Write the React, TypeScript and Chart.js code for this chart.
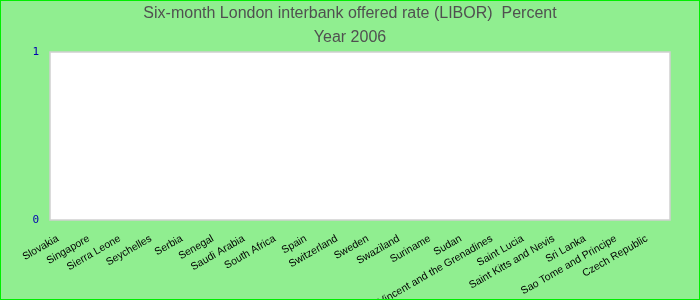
import React, { useEffect, useRef } from 'react';
import { Chart, registerables } from 'chart.js';

Chart.register(...registerables);

const titleLines: string[] = ['Six-month London interbank offered rate (LIBOR)  Percent', 'Year 2006'];

const countries: string[] = [
  'Slovakia',
  'Singapore',
  'Sierra Leone',
  'Seychelles',
  'Serbia',
  'Senegal',
  'Saudi Arabia',
  'South Africa',
  'Spain',
  'Switzerland',
  'Sweden',
  'Swaziland',
  'Suriname',
  'Sudan',
  'Saint Vincent and the Grenadines',
  'Saint Lucia',
  'Saint Kitts and Nevis',
  'Sri Lanka',
  'Sao Tome and Principe',
  'Czech Republic',
];

// No values are shown for 2006 in the reference
const liborValues: (number | null)[] = [
  null, null, null, null, null, null, null, null, null, null,
  null, null, null, null, null, null, null, null, null, null,
];

const yTicks: number[] = [0, 1];

const plotBackground = {
  id: 'plotBackground',
  beforeDraw(chart: any) {
    const { ctx, chartArea } = chart;
    if (!chartArea) return;
    ctx.save();
    ctx.fillStyle = '#ffffff';
    ctx.fillRect(chartArea.left, chartArea.top, chartArea.right - chartArea.left, chartArea.bottom - chartArea.top);
    ctx.restore();
  },
  afterDraw(chart: any) {
    const { ctx, chartArea } = chart;
    if (!chartArea) return;
    ctx.save();
    ctx.strokeStyle = '#d0d0d0';
    ctx.lineWidth = 1.5;
    ctx.strokeRect(chartArea.left, chartArea.top, chartArea.right - chartArea.left, chartArea.bottom - chartArea.top);
    ctx.restore();
  },
};

export default function App() {
  const canvasRef = useRef<HTMLCanvasElement | null>(null);

  useEffect(() => {
    if (!canvasRef.current) return;
    const chart = new Chart(canvasRef.current, {
      type: 'bar',
      data: {
        labels: countries,
        datasets: [
          {
            label: 'LIBOR',
            data: liborValues,
            backgroundColor: '#4472c4',
            borderWidth: 0,
          },
        ],
      },
      options: {
        responsive: false,
        animation: false,
        layout: { padding: 0 },
        plugins: {
          legend: { display: false },
          tooltip: { enabled: false },
          title: {
            display: true,
            text: titleLines,
            color: '#505050',
            font: { family: 'Arial, "Liberation Sans", sans-serif', size: 16, weight: 'normal', lineHeight: 1.5 },
            padding: { top: 1, bottom: 2 },
          },
        },
        scales: {
          x: {
            grid: { display: false, drawTicks: false },
            border: { display: false },
            ticks: {
              autoSkip: false,
              minRotation: 30,
              maxRotation: 30,
              padding: 8,
              color: '#000000',
              font: { family: 'Arial, "Liberation Sans", sans-serif', size: 10.5 },
              callback: (_value: any, index: number) => countries[index] + '   ',
            },
            afterFit: (scale: any) => {
              scale.height = 79;
            },
          },
          y: {
            min: 0,
            max: 1,
            grid: { display: false, drawTicks: false },
            border: { display: false },
            afterBuildTicks: (scale: any) => {
              scale.ticks = yTicks.map((v) => ({ value: v }));
            },
            ticks: {
              stepSize: 1,
              padding: 11,
              color: '#0000b0',
              font: { family: '"DejaVu Sans Mono", monospace', size: 11 },
            },
            afterFit: (scale: any) => {
              scale.width = 49;
            },
          },
          yRight: {
            position: 'right',
            display: true,
            min: 0,
            max: 1,
            grid: { display: false, drawTicks: false },
            border: { display: false },
            ticks: { display: false },
            afterFit: (scale: any) => {
              scale.width = 29;
            },
          },
        },
      },
      plugins: [plotBackground],
    });
    return () => chart.destroy();
  }, []);

  return (
    <div
      style={{
        position: 'fixed',
        left: 0,
        top: 0,
        width: 700,
        height: 300,
        boxSizing: 'border-box',
        border: '1px solid #00ee00',
        background: '#90ee90',
        overflow: 'hidden',
      }}
    >
      <canvas ref={canvasRef} width={698} height={298} style={{ display: 'block', width: 698, height: 298 }} />
    </div>
  );
}
